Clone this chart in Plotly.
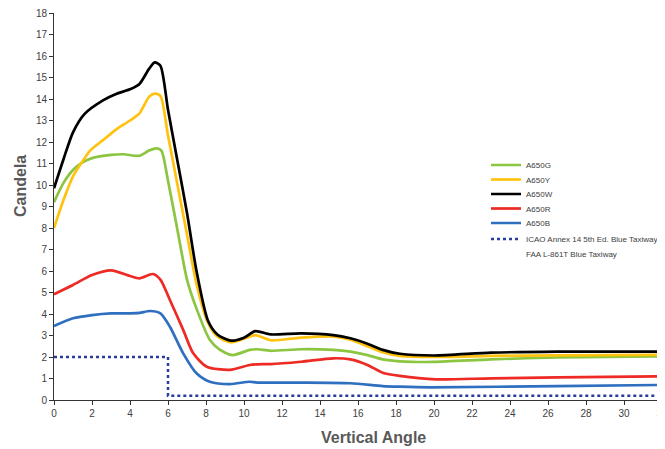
import plotly.graph_objects as go

# ---- data ----
x_w = [0, 0.5, 1, 1.6, 2.6, 3.3, 4, 4.5, 5, 5.3, 5.6, 6, 6.5, 7, 7.5, 8.1, 8.6, 9.3, 10, 10.6, 11.4, 13, 14.7, 15.6, 16.5, 17.3, 18.2, 20, 23, 26.5, 32]
y_w = [9.85, 11.2, 12.45, 13.3, 13.95, 14.25, 14.45, 14.7, 15.4, 15.7, 15.55, 13.5, 11.1, 8.7, 6.0, 3.7, 3.05, 2.76, 2.9, 3.2, 3.05, 3.1, 3.02, 2.87, 2.62, 2.33, 2.15, 2.07, 2.2, 2.25, 2.25]

x_y = [0, 0.5, 1, 1.5, 1.9, 2.6, 3.3, 4, 4.5, 5, 5.3, 5.6, 6, 6.5, 7, 7.5, 8.1, 8.6, 9.3, 10, 10.6, 11.4, 13, 14.7, 15.6, 16.5, 17.3, 18.2, 20, 23, 26.5, 32]
y_y = [8.0, 9.3, 10.4, 11.1, 11.6, 12.1, 12.6, 13.0, 13.33, 14.1, 14.25, 14.15, 12.3, 10.0, 7.7, 5.4, 3.6, 2.95, 2.68, 2.85, 3.02, 2.78, 2.9, 2.95, 2.8, 2.5, 2.22, 2.05, 2.0, 2.05, 2.08, 2.1]

x_g = [0, 0.5, 1, 1.5, 2, 3, 3.65, 4.5, 5, 5.4, 5.65, 6, 6.5, 7, 7.5, 8.2, 8.7, 9.4, 10.3, 10.7, 11.4, 13, 14.7, 15.6, 16.5, 17.3, 18.2, 20, 23, 26.5, 32]
y_g = [9.2, 10.1, 10.7, 11.05, 11.25, 11.4, 11.43, 11.36, 11.6, 11.7, 11.6, 10.2, 7.9, 5.6, 4.25, 2.8, 2.35, 2.09, 2.33, 2.36, 2.29, 2.36, 2.33, 2.25, 2.09, 1.89, 1.8, 1.77, 1.89, 1.98, 2.03]

x_r = [0, 1, 2, 3, 4, 4.5, 5.2, 5.6, 6.1, 6.8, 7.33, 8.04, 9.26, 10.3, 10.7, 11.4, 13, 14.7, 15.6, 16.5, 17.3, 18.2, 20.1, 23, 26.5, 32]
y_r = [4.92, 5.35, 5.81, 6.03, 5.77, 5.66, 5.86, 5.6, 4.65, 3.26, 2.17, 1.55, 1.4, 1.63, 1.66, 1.67, 1.78, 1.94, 1.89, 1.63, 1.27, 1.12, 0.96, 1.01, 1.05, 1.1]

x_b = [0, 1, 2, 3, 4, 4.5, 5.05, 5.6, 6.1, 6.8, 7.5, 8.2, 9.26, 10.3, 10.7, 13, 15.6, 17.3, 18.2, 19.8, 26.5, 32]
y_b = [3.44, 3.8, 3.95, 4.03, 4.03, 4.05, 4.14, 4.03, 3.41, 2.17, 1.24, 0.85, 0.74, 0.85, 0.81, 0.81, 0.78, 0.65, 0.62, 0.59, 0.65, 0.7]

x_icao = [0, 6, 6, 32]
y_icao = [2, 2, 0.2, 0.2]

series = [
    ("A650G", x_g, y_g, "#8cc540"),
    ("A650Y", x_y, y_y, "#ffc20e"),
    ("A650W", x_w, y_w, "#000000"),
    ("A650R", x_r, y_r, "#ee2a24"),
    ("A650B", x_b, y_b, "#2f6fbf"),
]

# page body has an 8px margin, so the figure is offset by 8px in the window
OFF = 8
W, H = 665 - OFF, 449 - OFF
L, R, T, B = 54 - OFF, 3, 13 - OFF, 49
pw, ph = W - L - R, H - T - B

def px(x):  # window pixel -> paper x
    return (x - OFF - L) / pw

def py(y):  # window pixel -> paper y
    return (H - B - (y - OFF)) / ph

legend_rows = [165, 179.5, 194, 208.5, 223, 239, 253.5]
legend_ids = ["legend", "legend2", "legend3", "legend4", "legend5", "legend6", "legend7"]

fig = go.Figure()
for i, (name, xs, ys, col) in enumerate(series):
    fig.add_trace(go.Scatter(x=xs, y=ys, name=name, mode="lines", legend=legend_ids[i],
                             line=dict(color=col, width=2.7, shape="spline", smoothing=0.7)))

fig.add_trace(go.Scatter(x=x_icao, y=y_icao, name="ICAO Annex 14 5th Ed. Blue Taxiway",
                         mode="lines", legend=legend_ids[5],
                         line=dict(color="#2b3c9c", width=2.5, dash="dot")))
fig.add_trace(go.Scatter(x=[None], y=[None], name="FAA L-861T Blue Taxiway",
                         mode="lines", legend=legend_ids[6],
                         line=dict(color="rgba(0,0,0,0)", width=0)))

legend_layout = {}
for lid, row in zip(legend_ids, legend_rows):
    legend_layout[lid] = dict(x=px(486), y=py(row), xanchor="left", yanchor="middle",
                              font=dict(size=8, color="#404040"), bgcolor="rgba(0,0,0,0)",
                              borderwidth=0)

fig.update_layout(
    width=W, height=H,
    margin=dict(l=L, r=R, t=T, b=B, autoexpand=False),
    paper_bgcolor="white", plot_bgcolor="white",
    font=dict(family="Liberation Sans, Arial, sans-serif", color="#404040", size=10),
    showlegend=True,
    xaxis=dict(range=[0, 32], tick0=0, dtick=2, showgrid=False, zeroline=False,
               showline=True, linecolor="#333333", linewidth=1, automargin=False,
               ticks="outside", ticklen=4, tickcolor="#333333", ticklabeloverflow="allow",
               tickfont=dict(size=10, color="#404040")),
    yaxis=dict(range=[0, 18], tick0=0, dtick=1, showgrid=False, zeroline=False,
               showline=True, linecolor="#333333", linewidth=1, automargin=False,
               ticks="outside", ticklen=4, tickcolor="#333333", ticklabeloverflow="allow",
               tickfont=dict(size=10, color="#404040")),
    annotations=[
        dict(text="<b>Candela</b>", x=px(20), y=py(186), xref="paper", yref="paper",
             xanchor="center", yanchor="middle",
             showarrow=False, textangle=-90, font=dict(size=16, color="#595959")),
        dict(text="<b>Vertical Angle</b>", x=px(373), y=py(437), xref="paper", yref="paper",
             xanchor="center", yanchor="middle",
             showarrow=False, font=dict(size=16, color="#595959")),
    ],
    **legend_layout,
)

fig.write_html("out.html")
